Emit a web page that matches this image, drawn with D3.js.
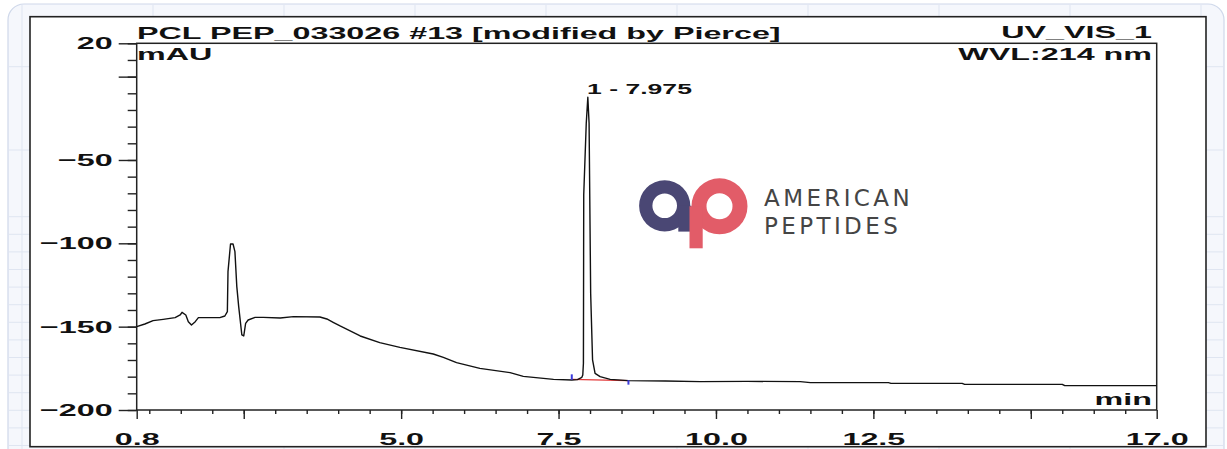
<!DOCTYPE html>
<html>
<head>
<meta charset="utf-8">
<script src="https://cdn.jsdelivr.net/npm/d3@7"></script>
<style>
  body { margin: 0; background: #fff; }
  svg { display: block; }
</style>
</head>
<body>
<div id="chart"></div>
<script>
// Chromatogram trace (min, mAU)
const times = [
  0.8, 0.93, 1.06, 1.22, 1.41, 1.49, 1.52, 1.58, 1.62, 1.67, 1.73, 1.78,
  2.12, 2.2, 2.24, 2.25, 2.29, 2.33, 2.36, 2.39, 2.42, 2.47, 2.5, 2.53,
  2.57, 2.68, 2.81, 3.08, 3.29, 3.71, 3.82, 3.92, 4.03, 4.35, 4.66, 4.98,
  5.51, 5.67, 5.88, 6.25, 6.73, 6.94, 7.42, 7.71, 7.8, 7.87, 7.885, 7.895,
  7.9, 7.94, 7.965, 7.985, 8.01, 8.04, 8.08, 8.16, 8.32, 8.61,
  9.2, 9.75, 10.5, 11.34, 11.5, 12.74, 12.78, 13.91, 13.95, 15.5, 15.54, 17.0,
];
const absorbance = [
  -150, -148.4, -146.4, -145.6, -144.6, -143, -141.4, -143, -147, -149, -147, -144.6,
  -144.6, -143.6, -141, -117, -100.4, -100.4, -105, -126, -138, -155, -155.6, -148,
  -146, -144.4, -144.4, -144.8, -144, -144.2, -145.4, -147.4, -149.6, -155.6, -159.6, -162.4,
  -166.4, -168.4, -171.6, -175, -177.6, -179.8, -181.6, -182, -181.8, -180.4, -179, -172,
  -71, -28, -12.4, -28, -130, -170, -178, -180, -181.6, -182.4,
  -182.6, -183, -182.8, -183, -183.6, -183.6, -184, -184, -184.6, -184.6, -185.4, -185.4,
];

// Integrated peak
const peakLabel = "1 - 7.975";
const peakApex = [7.975, -12.4];
const peakBaseStart = [7.71, -181.6];
const peakBaseEnd = [8.61, -182.4];

// Axes
const xDomain = [0.8, 17.0];
const yDomain = [-200, 20];
const xMinorTicks = d3.range(1.0, 17.0, 0.5);
const xMajorTicks = [0.8, 2.5, 5.0, 7.5, 10.0, 12.5, 15.0, 17.0];
const xLabelTicks = [0.8, 5.0, 7.5, 10.0, 12.5, 17.0];
const yMinorTicks = d3.range(-200, 21, 10);
const yMajorTicks = [20, 0, -50, -100, -150, -200];
const yLabelTicks = [20, -50, -100, -150, -200];

// Header texts
const titleText = "PCL PEP_033026 #13 [modified by Pierce]";
const channelText = "UV_VIS_1";
const yUnitText = "mAU";
const wavelengthText = "WVL:214 nm";
const xUnitText = "min";
const logoLines = ["AMERICAN", "PEPTIDES"];

const W = 1227, H = 449;
const SX = 1.9; // the original export is stretched sideways
const FONT = "'Liberation Sans', Arial, sans-serif";

const svg = d3.select("#chart").append("svg")
  .attr("width", W).attr("height", H);

// page background: light graph-paper card
svg.append("rect").attr("width", W).attr("height", H).attr("fill", "#fff");
svg.append("rect")
  .attr("x", 8).attr("y", 4).attr("width", 1216).attr("height", 470)
  .attr("rx", 16)
  .attr("fill", "#f5f7fc").attr("stroke", "#cfd8ea").attr("stroke-width", 1.2);

const grid = svg.append("g").attr("stroke", "#dfe5f1").attr("stroke-width", 1);
d3.range(22, W, 131).forEach((gx) => {
  grid.append("line").attr("x1", gx).attr("x2", gx).attr("y1", 5).attr("y2", H);
});
[66.7, 150].concat(d3.range(216.7, H, 17.6)).forEach((gy) => {
  grid.append("line").attr("x1", 9).attr("x2", 1223).attr("y1", gy).attr("y2", gy);
});

// outer white frame
svg.append("rect")
  .attr("x", 30).attr("y", 16.7).attr("width", 1176).attr("height", 430)
  .attr("fill", "#fff").attr("stroke", "#222").attr("stroke-width", 1.6);

const x = d3.scaleLinear().domain(xDomain).range([136.7, 1156.7]);
const y = d3.scaleLinear().domain(yDomain).range([410, 43.3]);

function stretchedText(px, py, str, size, anchor) {
  svg.append("text")
    .attr("transform", `translate(${px},${py}) scale(${SX},1)`)
    .attr("font-family", FONT).attr("font-weight", "bold")
    .attr("font-size", size).attr("fill", "#111")
    .attr("text-anchor", anchor || "start")
    .text(str);
}

// axes
function styleAxis(g) {
  g.select(".domain").remove();
  g.selectAll("line").attr("stroke", "#222").attr("stroke-width", 1.4);
  g.selectAll("text")
    .attr("font-family", FONT).attr("font-weight", "bold")
    .attr("font-size", 17).attr("fill", "#111");
}

svg.append("g")
  .attr("transform", `translate(${x(xDomain[0])},0)`)
  .call(d3.axisLeft(y).tickValues(yMinorTicks).tickSize(9).tickFormat(""))
  .call(styleAxis);

const yAxis = svg.append("g")
  .attr("transform", `translate(${x(xDomain[0])},0)`)
  .call(d3.axisLeft(y).tickValues(yMajorTicks).tickSize(18).tickPadding(6)
    .tickFormat((d) => (yLabelTicks.includes(d) ? d3.format("d")(d) : "")))
  .call(styleAxis);
yAxis.selectAll("text")
  .attr("x", -24 / SX)
  .attr("transform", `scale(${SX},1)`);

svg.append("g")
  .attr("transform", `translate(0,${y(yDomain[0])})`)
  .call(d3.axisBottom(x).tickValues(xMinorTicks).tickSize(4).tickFormat(""))
  .call(styleAxis);

const xAxis = svg.append("g")
  .attr("transform", `translate(0,${y(yDomain[0])})`)
  .call(d3.axisBottom(x).tickValues(xMajorTicks).tickSize(9).tickPadding(14)
    .tickFormat((d) => (xLabelTicks.includes(d) ? d3.format(".1f")(d) : "")))
  .call(styleAxis);
xAxis.selectAll("text").attr("transform", `scale(${SX},1)`);

// plot box
svg.append("rect")
  .attr("x", x(xDomain[0])).attr("y", y(yDomain[1]))
  .attr("width", x(xDomain[1]) - x(xDomain[0]))
  .attr("height", y(yDomain[0]) - y(yDomain[1]))
  .attr("fill", "none").attr("stroke", "#222").attr("stroke-width", 1.5);

// logo
const logo = svg.append("g");
const ring = d3.arc();
logo.append("path")
  .attr("transform", "translate(664.7,205.8)")
  .attr("d", ring({ innerRadius: 12.3, outerRadius: 25.6, startAngle: 0, endAngle: 2 * Math.PI }))
  .attr("fill", "#4a4774");
logo.append("rect")
  .attr("x", 678.3).attr("y", 205.8).attr("width", 13.2).attr("height", 25.8)
  .attr("fill", "#4a4774");
logo.append("path")
  .attr("transform", "translate(719.5,206.3)")
  .attr("d", ring({ innerRadius: 13, outerRadius: 28, startAngle: 0, endAngle: 2 * Math.PI }))
  .attr("fill", "#e25c68");
logo.append("rect")
  .attr("x", 689.5).attr("y", 206.3).attr("width", 13.2).attr("height", 42)
  .attr("fill", "#e25c68");
logoLines.forEach((line, i) => {
  logo.append("text")
    .attr("x", 764).attr("y", 206.3 + i * 27.4)
    .attr("font-family", "'DejaVu Sans', sans-serif")
    .attr("font-size", 23).attr("letter-spacing", 3.4)
    .attr("fill", "#454545")
    .text(line);
});

// integration baseline and markers
svg.append("line")
  .attr("x1", x(peakBaseStart[0])).attr("y1", y(peakBaseStart[1]))
  .attr("x2", x(peakBaseEnd[0])).attr("y2", y(peakBaseEnd[1]))
  .attr("stroke", "#e23a3a").attr("stroke-width", 1.3);

// trace
const points = times.map((t, i) => [t, absorbance[i]]);
svg.append("path")
  .datum(points)
  .attr("fill", "none")
  .attr("stroke", "#111")
  .attr("stroke-width", 1.4)
  .attr("stroke-linejoin", "round")
  .attr("d", d3.line().x((d) => x(d[0])).y((d) => y(d[1])));

svg.append("line")
  .attr("x1", x(peakBaseStart[0])).attr("x2", x(peakBaseStart[0]))
  .attr("y1", y(peakBaseStart[1]) - 5).attr("y2", y(peakBaseStart[1]) + 0.5)
  .attr("stroke", "#3b3bdc").attr("stroke-width", 2);
svg.append("line")
  .attr("x1", x(peakBaseEnd[0])).attr("x2", x(peakBaseEnd[0]))
  .attr("y1", y(peakBaseEnd[1]) - 0.5).attr("y2", y(peakBaseEnd[1]) + 4)
  .attr("stroke", "#3b3bdc").attr("stroke-width", 2);

// texts
stretchedText(x(peakApex[0]) - 1.5, y(peakApex[1]) - 3.5, peakLabel, 14, "start");
stretchedText(137, 39.3, titleText, 17, "start");
stretchedText(1152, 38.4, channelText, 17, "end");
stretchedText(137, 60, yUnitText, 17, "start");
stretchedText(1152, 60, wavelengthText, 17, "end");
stretchedText(1152, 405, xUnitText, 17, "end");
</script>
</body>
</html>
